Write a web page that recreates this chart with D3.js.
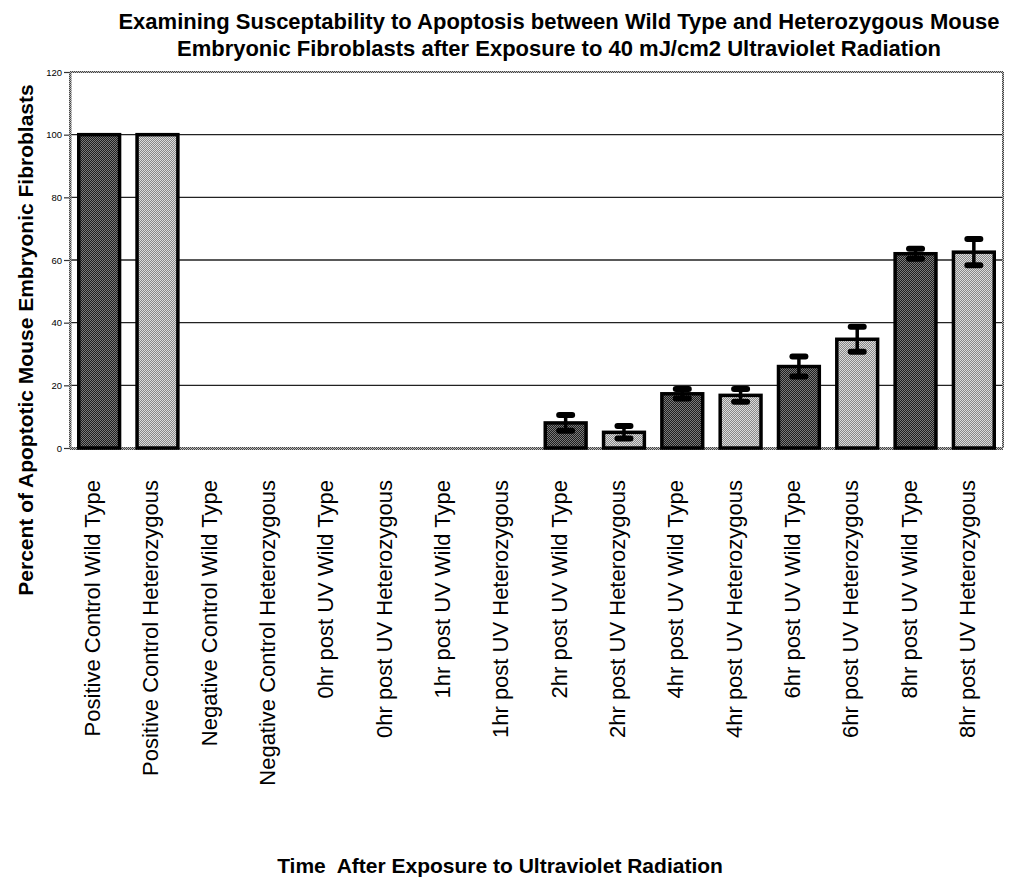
<!DOCTYPE html>
<html>
<head>
<meta charset="utf-8">
<script src="https://cdn.jsdelivr.net/npm/d3@7"></script>
<style>
  html, body { margin: 0; padding: 0; background: #fff; }
  svg { display: block; font-family: Arial, "Liberation Sans", Helvetica, sans-serif; }
  text { white-space: pre; }
</style>
</head>
<body>
<svg id="chart" width="1009" height="888"></svg>
<script>
// Apoptosis percentages per condition
const categories = [
  "Positive Control Wild Type", "Positive Control Heterozygous",
  "Negative Control Wild Type", "Negative Control Heterozygous",
  "0hr post UV Wild Type", "0hr post UV Heterozygous",
  "1hr post UV Wild Type", "1hr post UV Heterozygous",
  "2hr post UV Wild Type", "2hr post UV Heterozygous",
  "4hr post UV Wild Type", "4hr post UV Heterozygous",
  "6hr post UV Wild Type", "6hr post UV Heterozygous",
  "8hr post UV Wild Type", "8hr post UV Heterozygous"
];
const genotype = ["WT","HET","WT","HET","WT","HET","WT","HET","WT","HET","WT","HET","WT","HET","WT","HET"];
const values =   [100, 100, 0, 0, 0, 0, 0, 0, 8, 5, 17.3, 16.8, 26, 34.7, 62, 62.5];
const errors =   [0, 0, 0, 0, 0, 0, 0, 0, 2.5, 2, 1.5, 2, 3.2, 4, 1.6, 4.2];
const yTicks = [0, 20, 40, 60, 80, 100, 120];

const titleLines = [
  "Examining Susceptability to Apoptosis between Wild Type and Heterozygous Mouse",
  "Embryonic Fibroblasts after Exposure to 40 mJ/cm2 Ultraviolet Radiation"
];
const yTitle = "Percent of Apoptotic Mouse Embryonic Fibroblasts";
const xTitle = "Time  After Exposure to Ultraviolet Radiation";

const svg = d3.select("#chart");
const m = { left: 70, right: 1003, top: 72, bottom: 448 };

// Dithered fills for the two genotypes
const defs = svg.append("defs");
function dither(id, a, b) {
  const p = defs.append("pattern").attr("id", id).attr("width", 2).attr("height", 2)
    .attr("patternUnits", "userSpaceOnUse");
  p.append("rect").attr("width", 2).attr("height", 2).attr("fill", a);
  p.append("rect").attr("width", 1).attr("height", 1).attr("fill", b);
  p.append("rect").attr("x", 1).attr("y", 1).attr("width", 1).attr("height", 1).attr("fill", b);
}
dither("fillWT", "#1e1e1e", "#7a7a7a");
dither("fillHET", "#888", "#dcdcdc");
dither("frame", "#444", "#bbb");

const x = d3.scaleBand().domain(categories).range([m.left, m.right]).paddingInner(0.3).paddingOuter(0.15);
const y = d3.scaleLinear().domain([0, 120]).range([m.bottom, m.top]);

// Gridlines
svg.append("g").selectAll("line").data(yTicks.filter(t => t > 0 && t < 120)).join("line")
  .attr("x1", m.left).attr("x2", m.right)
  .attr("y1", d => y(d)).attr("y2", d => y(d))
  .attr("stroke", "#222").attr("stroke-width", 1.3);

// Plot frame (top, right, bottom)
const frame = svg.append("g");
frame.append("rect").attr("x", m.left).attr("y", m.top - 1).attr("width", m.right - m.left).attr("height", 2).attr("fill", "url(#frame)");
frame.append("rect").attr("x", m.right - 1).attr("y", m.top).attr("width", 2).attr("height", m.bottom - m.top).attr("fill", "url(#frame)");

// Bars
svg.append("g").selectAll("rect").data(categories.map((c, i) => ({ c, v: values[i], g: genotype[i] })).filter(d => d.v > 0))
  .join("rect")
  .attr("x", d => x(d.c)).attr("width", x.bandwidth())
  .attr("y", d => y(d.v)).attr("height", d => y(0) - y(d.v))
  .attr("fill", d => d.g === "WT" ? "url(#fillWT)" : "url(#fillHET)")
  .attr("stroke", "#000").attr("stroke-width", 3.5);

// Bottom axis line
frame.append("rect").attr("x", m.left).attr("y", m.bottom - 1).attr("width", m.right - m.left).attr("height", 3).attr("fill", "url(#frame)");

// Error bars
const eb = svg.append("g").selectAll("g")
  .data(categories.map((c, i) => ({ c, v: values[i], e: errors[i] })).filter(d => d.e > 0))
  .join("g").attr("transform", d => `translate(${x(d.c) + x.bandwidth() / 2},0)`);
eb.append("line").attr("y1", d => y(d.v + d.e)).attr("y2", d => y(d.v - d.e))
  .attr("stroke", "#000").attr("stroke-width", 3.5);
eb.selectAll("line.cap").data(d => [d.v + d.e, d.v - d.e]).join("line").attr("class", "cap")
  .attr("x1", -6.5).attr("x2", 6.5).attr("y1", d => y(d)).attr("y2", d => y(d))
  .attr("stroke", "#000").attr("stroke-width", 6).attr("stroke-linecap", "round");

// Y axis
const yAxis = svg.append("g").attr("transform", `translate(${m.left},0)`)
  .call(d3.axisLeft(y).tickValues(yTicks).tickSize(6).tickPadding(2));
yAxis.select(".domain").remove();
yAxis.selectAll(".tick line").attr("stroke", "#333").attr("stroke-width", 1.2);
yAxis.selectAll(".tick text").attr("font-size", 9.5).attr("fill", "#000").attr("font-family", "Arial, Liberation Sans, sans-serif");
svg.append("rect").attr("x", m.left - 1).attr("y", m.top).attr("width", 2.5).attr("height", m.bottom - m.top + 1).attr("fill", "url(#frame)");

// Category labels
svg.append("g").selectAll("text").data(categories).join("text")
  .attr("transform", d => `translate(${x(d) + x.bandwidth() / 2 + 1},480) rotate(-90)`)
  .attr("text-anchor", "end")
  .attr("font-size", 22).attr("fill", "#000")
  .text(d => d);

// Titles
svg.append("g").selectAll("text").data(titleLines).join("text")
  .attr("x", 559).attr("y", (d, i) => 29 + i * 27)
  .attr("text-anchor", "middle").attr("font-weight", "bold").attr("font-size", 22)
  .text(d => d);

svg.append("text").attr("transform", "translate(33,340) rotate(-90)")
  .attr("text-anchor", "middle").attr("font-weight", "bold").attr("font-size", 21)
  .text(yTitle);

svg.append("text").attr("x", 500).attr("y", 873)
  .attr("text-anchor", "middle").attr("font-weight", "bold").attr("font-size", 21)
  .text(xTitle);
</script>
</body>
</html>
